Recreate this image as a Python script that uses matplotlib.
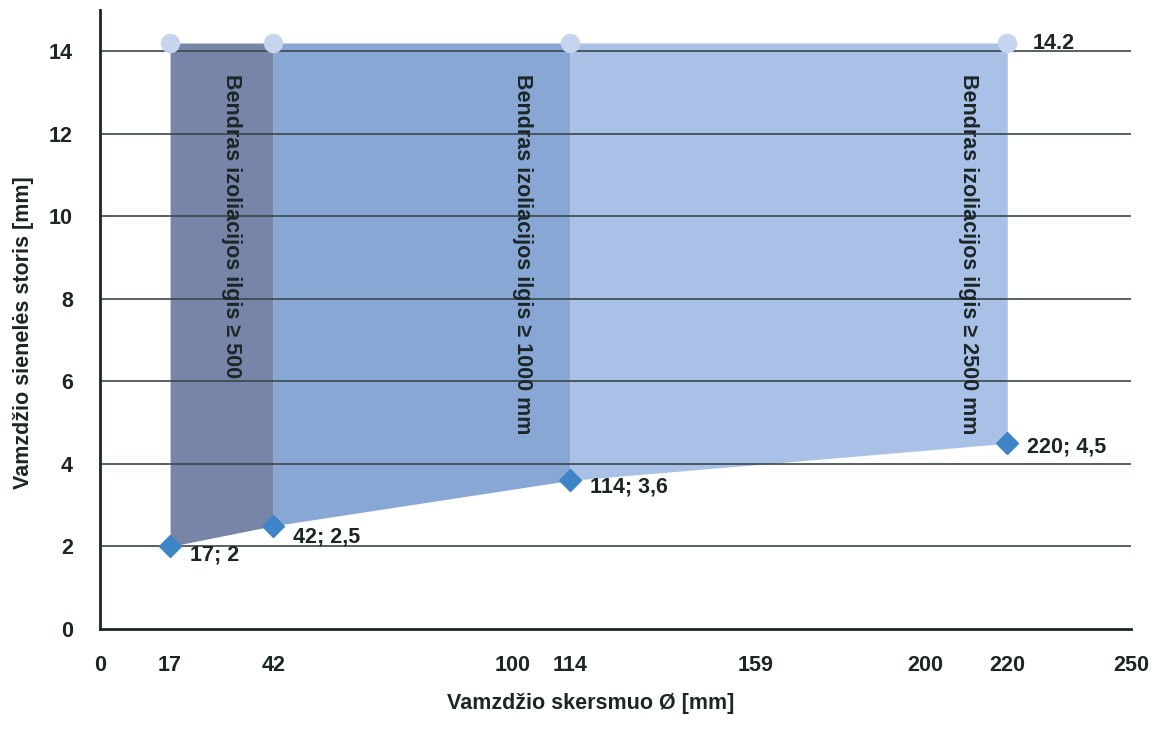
import matplotlib
matplotlib.use("Agg")
import matplotlib.pyplot as plt

# Pipe outer diameter [mm] and minimum wall thickness [mm]
diameters = [17, 42, 114, 220]
wall_thickness = [2, 2.5, 3.6, 4.5]
upper_limit = 14.2

zone_labels = [
    "Bendras izoliacijos ilgis ≥ 500",
    "Bendras izoliacijos ilgis ≥ 1000 mm",
    "Bendras izoliacijos ilgis ≥ 2500 mm",
]
zone_label_x = [32, 102.5, 210.5]
zone_colors = ["#7786A8", "#88A7D4", "#A9C1E6"]

point_labels = ["17; 2", "42; 2,5", "114; 3,6", "220; 4,5"]
x_ticks = [0, 17, 42, 100, 114, 159, 200, 220, 250]
y_ticks = [0, 2, 4, 6, 8, 10, 12, 14]

# vertical nudges (points) of the point labels relative to their markers
label_dy = [-6.5, -8, -5, -3]

text_color = "#1C2626"
fs = 15.5
plt.rcParams["font.family"] = ["Liberation Sans", "DejaVu Sans"]
plt.rcParams["font.weight"] = "bold"

fig = plt.figure(figsize=(11.68, 7.3), dpi=100)
ax = fig.add_axes([0.0856, 0.1384, 0.8827, 0.8479])

# shaded zones between the minimum thickness line and the upper limit
for i in range(len(diameters) - 1):
    xs = diameters[i:i + 2]
    ys = wall_thickness[i:i + 2]
    ax.fill_between(xs, ys, [upper_limit] * 2, color=zone_colors[i],
                    linewidth=0, zorder=1)

for y in y_ticks[1:]:
    ax.axhline(y, color="#3A4747", linewidth=1.2, zorder=2)

ax.plot(diameters, wall_thickness, linestyle="none", marker="D",
        markersize=11, color="#3D85C6", zorder=4, clip_on=False)
ax.plot(diameters, [upper_limit] * len(diameters), linestyle="none",
        marker="o", markersize=13, color="#C6D4EE", zorder=4, clip_on=False)

for x, y, lab, dy in zip(diameters, wall_thickness, point_labels, label_dy):
    ax.annotate(lab, (x, y), xytext=(14, dy), textcoords="offset points",
                ha="left", va="center", fontsize=fs, fontweight="bold",
                color=text_color, zorder=5)
ax.annotate(f"{upper_limit}", (diameters[-1], upper_limit), xytext=(18, 0),
            textcoords="offset points", ha="left", va="center", fontsize=fs,
            fontweight="bold", color=text_color, zorder=5)

for x, lab in zip(zone_label_x, zone_labels):
    ax.text(x, 13.45, lab, rotation=270, ha="center", va="top", fontsize=fs,
            fontweight="bold", color=text_color, zorder=5)

ax.set_xlim(0, 250)
ax.set_ylim(0, 15)
ax.set_xticks(x_ticks)
ax.set_yticks(y_ticks)
ax.tick_params(axis="both", length=0, labelsize=fs, labelcolor=text_color)
ax.tick_params(axis="x", pad=19)
ax.tick_params(axis="y", pad=19.5)
for lab in ax.get_xticklabels() + ax.get_yticklabels():
    lab.set_fontweight("bold")

for side in ("top", "right"):
    ax.spines[side].set_visible(False)
for side in ("left", "bottom"):
    ax.spines[side].set_color(text_color)
    ax.spines[side].set_linewidth(2)

ax.set_xlabel("Vamzdžio skersmuo Ø [mm]", fontsize=fs, fontweight="bold",
              color=text_color)
ax.set_ylabel("Vamzdžio sienelės storis [mm]", fontsize=fs, fontweight="bold",
              color=text_color)
ax.xaxis.set_label_coords(0.476, -0.103)
ax.yaxis.set_label_coords(-0.064, 0.478)

fig.savefig("out.png", dpi=100)
